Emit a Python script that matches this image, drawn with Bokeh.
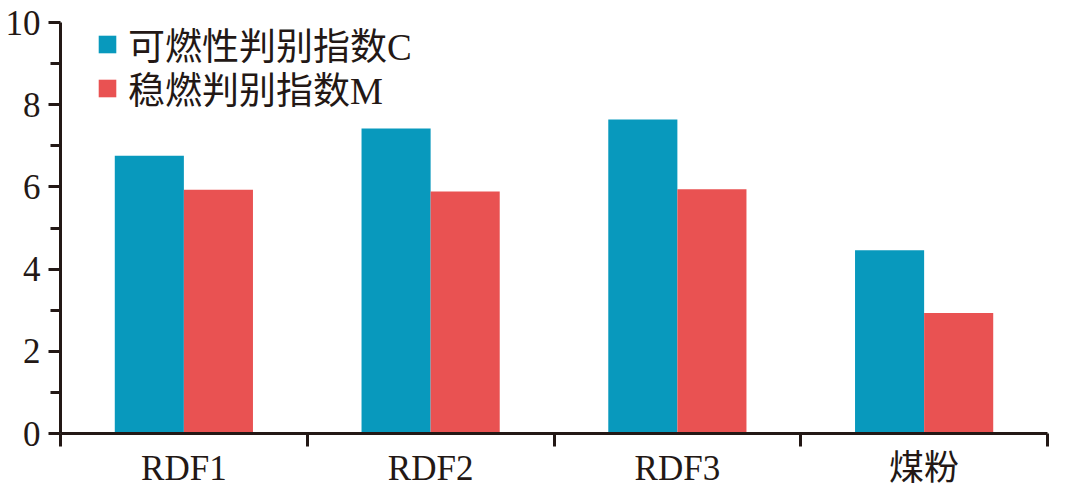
from bokeh.plotting import figure
from bokeh.models import Range1d, FixedTicker, Legend, LegendItem, ColumnDataSource
from bokeh.embed import file_html
from bokeh.resources import INLINE

categories = ["RDF1", "RDF2", "RDF3", "煤粉"]
c_values = [6.76, 7.42, 7.64, 4.46]
m_values = [5.93, 5.89, 5.94, 2.93]
series_names = ["可燃性判别指数C", "稳燃判别指数M"]
y_ticks = [0, 2, 4, 6, 8, 10]
y_minor = [1, 3, 5, 7, 9]

BLUE = "#0899bd"
RED = "#e95252"
INK = "#231815"
FONT = "Liberation Serif, Noto Sans CJK SC"

centers = [i + 0.5 for i in range(len(categories))]
bw = 0.28
src = ColumnDataSource(dict(
    xc=[c - bw / 2 for c in centers],
    xm=[c + bw / 2 for c in centers],
    c=c_values, m=m_values,
))

p = figure(width=1080, height=491, output_backend="svg", toolbar_location=None,
           x_range=Range1d(0, len(categories)), y_range=Range1d(0, 10),
           min_border_left=60, min_border_right=33, min_border_top=22, min_border_bottom=58)
p.outline_line_color = None
p.grid.visible = False
p.background_fill_color = "white"

r1 = p.vbar(x="xc", top="c", width=bw, bottom=0, source=src, fill_color=BLUE, line_color=None)
r2 = p.vbar(x="xm", top="m", width=bw, bottom=0, source=src, fill_color=RED, line_color=None)

# x axis
xa = p.xaxis[0]
xa.ticker = FixedTicker(ticks=centers, minor_ticks=list(range(len(categories) + 1)))
xa.major_label_overrides = {c: lab for c, lab in zip(centers, categories)}
xa.major_tick_out = 0
xa.major_tick_in = 0
xa.minor_tick_out = 13
xa.minor_tick_in = 0
xa.minor_tick_line_width = 3
xa.minor_tick_line_color = INK
xa.axis_line_width = 3
xa.axis_line_color = INK
xa.major_label_text_font = FONT
xa.major_label_text_font_size = "35px"
xa.major_label_text_color = INK
xa.major_label_standoff = 2

# y axis
ya = p.yaxis[0]
ya.ticker = FixedTicker(ticks=y_ticks, minor_ticks=y_minor)
ya.major_tick_out = 12
ya.major_tick_in = 0
ya.minor_tick_out = 10
ya.minor_tick_in = 0
ya.major_tick_line_width = 3
ya.minor_tick_line_width = 3
ya.major_tick_line_color = INK
ya.minor_tick_line_color = INK
ya.axis_line_width = 3
ya.axis_line_color = INK
ya.major_label_text_font = FONT
ya.major_label_text_font_size = "35px"
ya.major_label_text_color = INK
ya.major_label_standoff = 8


def make_legend(name, rend, loc):
    lg = Legend(items=[LegendItem(label=name, renderers=[rend])], location=loc)
    lg.glyph_width = 22
    lg.glyph_height = 22
    lg.label_standoff = 10
    lg.spacing = 0
    lg.padding = 0
    lg.margin = 0
    lg.border_line_color = None
    lg.background_fill_alpha = 0
    lg.label_text_font = FONT
    lg.label_text_font_size = "37px"
    lg.label_text_color = INK
    return lg


p.add_layout(make_legend(series_names[0], r1, (36, 362)), "center")
p.add_layout(make_legend(series_names[1], r2, (36, 318)), "center")

open("out.html", "w").write(file_html(p, INLINE))
